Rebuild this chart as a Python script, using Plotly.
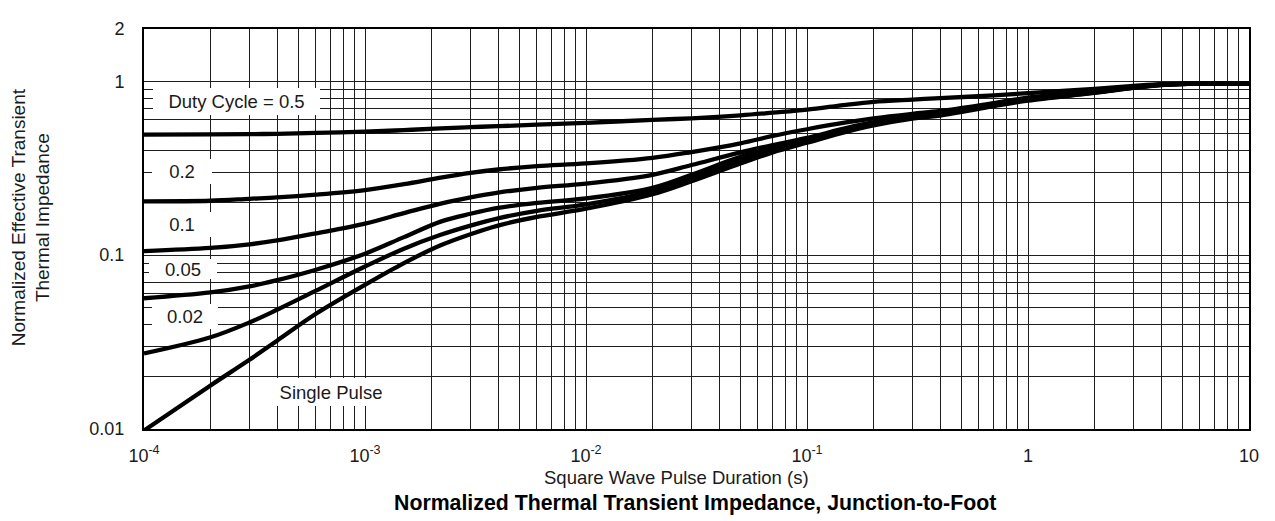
import plotly.graph_objects as go
import numpy as np

# ---- data ----
pulse_duration = [1e-4, 2e-4, 3e-4, 4e-4, 6e-4, 1e-3, 1.5e-3, 2.2e-3, 3e-3, 4e-3,
                  6e-3, 1e-2, 2e-2, 3e-2, 5e-2, 0.07, 0.1, 0.15, 0.2, 0.3,
                  0.4, 0.7, 1, 2, 3, 4, 6, 10]
duty_05 = [0.493, 0.495, 0.497, 0.499, 0.505, 0.513, 0.524, 0.536, 0.545, 0.552,
           0.563, 0.577, 0.600, 0.613, 0.637, 0.660, 0.687, 0.733, 0.762, 0.785,
           0.800, 0.830, 0.855, 0.905, 0.940, 0.962, 0.970, 0.970]
duty_02 = [0.204, 0.2056, 0.211, 0.215, 0.223, 0.237, 0.256, 0.279, 0.297, 0.311,
           0.325, 0.337, 0.363, 0.392, 0.440, 0.485, 0.530, 0.580, 0.612, 0.650,
           0.675, 0.750, 0.805, 0.880, 0.930, 0.958, 0.970, 0.970]
duty_01 = [0.1055, 0.110, 0.1155, 0.1215, 0.1335, 0.152, 0.1745, 0.198, 0.215, 0.229,
           0.244, 0.258, 0.290, 0.330, 0.390, 0.430, 0.473, 0.538, 0.582, 0.632,
           0.658, 0.740, 0.795, 0.872, 0.925, 0.955, 0.970, 0.970]
duty_005 = [0.0565, 0.061, 0.0661, 0.0718, 0.0825, 0.102, 0.127, 0.156, 0.173, 0.187,
            0.200, 0.212, 0.244, 0.290, 0.368, 0.413, 0.460, 0.527, 0.573, 0.624,
            0.650, 0.735, 0.788, 0.866, 0.922, 0.955, 0.970, 0.970]
duty_002 = [0.0272, 0.0337, 0.041, 0.0485, 0.0625, 0.086, 0.109, 0.131, 0.148, 0.163,
            0.180, 0.196, 0.234, 0.278, 0.352, 0.400, 0.450, 0.518, 0.565, 0.617,
            0.643, 0.728, 0.782, 0.862, 0.920, 0.953, 0.970, 0.970]
single_pulse = [0.0098, 0.0178, 0.025, 0.0322, 0.046, 0.0675, 0.090, 0.114, 0.132, 0.148,
                0.166, 0.185, 0.224, 0.266, 0.337, 0.390, 0.443, 0.512, 0.558, 0.610,
                0.636, 0.720, 0.775, 0.858, 0.918, 0.952, 0.970, 0.970]

series = [duty_05, duty_02, duty_01, duty_005, duty_002, single_pulse]
series_labels = ["Duty Cycle = 0.5", "0.2", "0.1", "0.05", "0.02", "Single Pulse"]

x_tick_labels = ["10<sup>-4</sup>", "10<sup>-3</sup>", "10<sup>-2</sup>", "10<sup>-1</sup>", "1", "10"]
y_tick_labels = ["0.01", "0.1", "1", "2"]

x_title = "Square Wave Pulse Duration (s)"
y_title = "Normalized Effective Transient<br>Thermal Impedance"
main_title = "<b>Normalized Thermal Transient Impedance, Junction-to-Foot</b>"

# ---- grid / tick positions (log decades) ----
xvals, xtext = [], []
for i, d in enumerate(range(-4, 1)):
    for m in range(1, 10):
        xvals.append(m * 10.0 ** d)
        xtext.append(x_tick_labels[i] if m == 1 else "")
xvals.append(10.0)
xtext.append(x_tick_labels[-1])

yvals, ytext = [], []
for i, d in enumerate((-2, -1)):
    for m in range(1, 10):
        yvals.append(m * 10.0 ** d)
        ytext.append(y_tick_labels[i] if m == 1 else "")
yvals += [1.0, 2.0]
ytext += y_tick_labels[2:]

FONT = "Liberation Sans, Arial, Helvetica, sans-serif"
TXT = "#1a1a1a"

fig = go.Figure()
for ys, name in zip(series, series_labels):
    fig.add_trace(go.Scatter(
        x=pulse_duration, y=ys, mode="lines", name=name,
        line=dict(color="black", width=4.3, shape="spline", smoothing=1.0),
        showlegend=False, hoverinfo="skip"))

# page body has an 8px margin in the browser; compensate
OFF = 8
# plot area in screenshot pixels
L, T, R, B = 144, 19, 1249, 429
PW, PH = R - L, B - T

# label boxes: (text, center x px, center y px, width, height)
label_boxes = [
    (series_labels[0], 236.5, 93.5, 167, 27),
    (series_labels[1], 182, 165.5, 60, 25),
    (series_labels[2], 182, 219, 60, 25),
    (series_labels[3], 183, 265, 68, 20),
    (series_labels[4], 185, 314, 66, 25),
    (series_labels[5], 331, 391, 112, 28),
]
annotations = []
for txt, cx, cy, w, h in label_boxes:
    annotations.append(dict(
        text=txt, xref="paper", yref="paper",
        x=(cx - L) / PW, y=(B - cy) / PH, xanchor="center", yanchor="middle",
        showarrow=False, bgcolor="white", borderpad=0, borderwidth=0,
        width=w, height=h, align="center", valign="middle",
        font=dict(family=FONT, size=18.5, color=TXT)))

annotations.append(dict(
    text=x_title, xref="paper", yref="paper",
    x=(676.5 - L) / PW, y=(B - 479) / PH, xanchor="center", yanchor="middle",
    showarrow=False, font=dict(family=FONT, size=18.5, color=TXT)))
annotations.append(dict(
    text=main_title, xref="paper", yref="paper",
    x=(695 - L) / PW, y=(B - 505) / PH, xanchor="center", yanchor="middle",
    showarrow=False, font=dict(family=FONT, size=21.3, color="black")))
annotations.append(dict(
    text=y_title, xref="paper", yref="paper",
    x=(31 - L) / PW, y=(B - 212) / PH, xanchor="center", yanchor="middle",
    textangle=-90, showarrow=False,
    font=dict(family=FONT, size=19, color=TXT)))

axis_common = dict(
    showgrid=True, gridcolor="#1e1e1e", gridwidth=1,
    showline=True, linecolor="black", linewidth=2, mirror=True,
    ticks="", zeroline=False,
    tickfont=dict(family=FONT, size=18, color=TXT),
)

W, H = 1275 - OFF, 521 - OFF
fig.update_layout(
    width=W, height=H, autosize=False,
    margin=dict(l=L - OFF, r=1275 - R, t=T - OFF, b=521 - B),
    paper_bgcolor="white", plot_bgcolor="white",
    xaxis=dict(type="log", range=[-4, 1], tickmode="array",
               tickvals=xvals, ticktext=xtext, ticklabelstandoff=9,
               **axis_common),
    yaxis=dict(type="log", range=[-2, np.log10(2)], tickmode="array",
               tickvals=yvals, ticktext=ytext, ticklabelstandoff=14,
               **axis_common),
    annotations=annotations,
    font=dict(family=FONT, color=TXT),
)

fig.write_html("out.html")
